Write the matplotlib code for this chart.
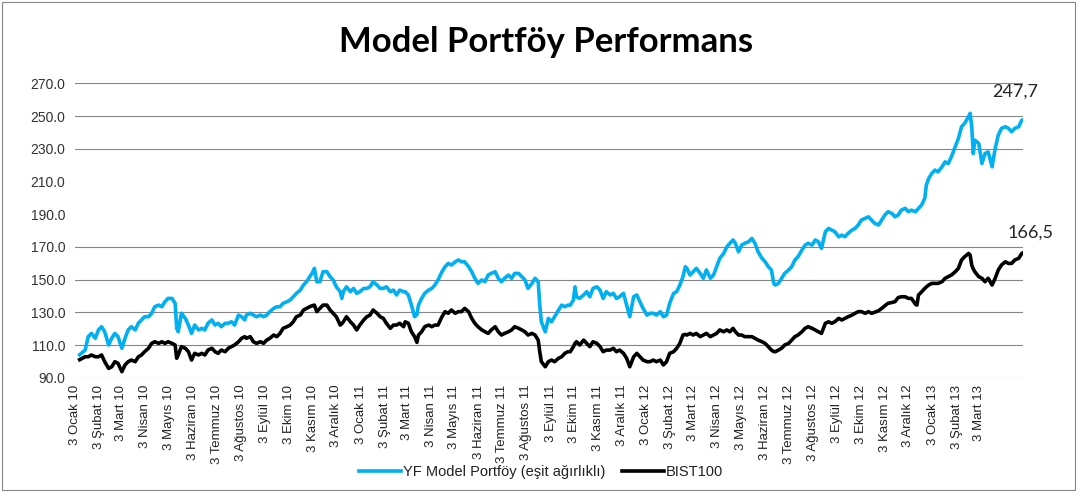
import matplotlib
matplotlib.use('Agg')
import matplotlib.pyplot as plt
import pandas as pd
from matplotlib.patches import Rectangle
from matplotlib.ticker import FormatStrFormatter

# gün: 3 Ocak 2010'dan itibaren geçen gün sayısı
day_offset = [
    6, 13, 17, 21, 26, 30, 34, 38, 43, 47, 51, 55, 60, 64, 68, 72, 77, 81, 85, 89,
    94, 98, 102, 107, 111, 115, 119, 124, 128, 130, 132, 136, 141, 145, 149, 153,
    158, 162, 166, 170, 175, 179, 183, 187, 192, 196, 200, 204, 209, 213, 217,
    219, 224, 228, 232, 237, 241, 245, 249, 254, 258, 262, 266, 271, 275, 279, 283,
    288, 292, 296, 300, 303, 306, 309, 313, 317, 322, 326, 330, 334, 339, 341, 343,
    347, 352, 356, 360, 364, 369, 373, 377, 381, 386, 390, 394, 398, 403, 407, 411,
    415, 420,
    422, 426, 430, 434, 437, 439, 443, 447, 452, 456, 460, 464, 469, 473, 477, 481,
    486, 490, 494, 498, 503, 507, 511, 515, 520, 524, 528, 532, 537, 541, 545, 549,
    554, 558, 562, 567, 571, 575, 579, 584, 588, 592, 594, 596, 601, 605, 609, 613,
    618, 622, 626, 630,
    633, 637, 639, 641, 645, 650, 654, 658, 662, 667, 671, 675, 679, 684, 688, 692,
    696, 701, 705, 709, 714, 718, 722, 726, 731, 735, 739, 743, 748, 752, 756, 760,
    765, 769, 773, 777, 780, 782, 786, 790, 794, 799, 803, 807, 812, 816, 820, 824,
    829, 833, 837, 841,
    844, 848, 852, 856, 861, 865, 869, 873, 878, 882, 886, 890, 893, 895, 899, 903,
    907, 912, 916, 920, 924, 929, 933, 937, 942, 946, 950, 954, 959, 963, 967, 971,
    976, 980, 984, 988, 993, 997, 1001, 1005, 1010, 1014, 1018,
    1022, 1027, 1031, 1035, 1039, 1044, 1048, 1052, 1056, 1061, 1065, 1069, 1074,
    1076, 1078, 1082, 1086, 1088, 1091, 1095, 1099, 1103, 1108, 1112, 1116, 1120,
    1125, 1129, 1133, 1137, 1142, 1144, 1146, 1148, 1150, 1155, 1159, 1163, 1167,
    1172, 1176, 1180, 1184, 1189, 1193, 1197, 1201, 1206, 1210, 1212,
]

yf_model = [
    104.0, 106.9, 115.1, 117.1, 114.1, 119.2, 121.2, 118.1, 110.0, 114.1, 117.1, 115.1,
    108.0, 114.1, 119.2, 121.2, 119.2, 123.3, 125.3, 127.3, 127.3, 129.4, 133.4, 134.4,
    133.4, 136.5, 138.5, 138.5, 135.5, 120.2, 118.1, 129.4, 126.3, 122.2, 117.1, 122.2,
    119.2, 120.2, 119.2, 123.3, 125.3, 122.2, 123.3, 121.2, 123.3, 123.3, 124.2, 122.2,
    128.3, 127.3, 125.3,
    128.3, 129.4, 128.3, 127.3, 128.3, 127.3, 128.3, 130.4, 132.4, 133.4,
    133.4, 135.5, 136.5, 137.5, 139.5, 141.6, 143.6, 146.7, 148.7, 151.8,
    153.8, 156.9, 148.7, 148.7, 154.8, 154.8, 151.8, 149.8, 145.6, 142.6,
    138.5, 142.6, 145.6, 142.6, 144.6, 141.6, 142.6, 144.6, 144.6, 145.6,
    148.7, 146.7, 144.6, 144.6, 145.6, 142.6, 143.6, 140.6, 143.6, 142.6,
    142.6, 140.6, 134.4, 127.3, 128.5, 134.4, 138.5, 141.6, 143.6, 144.6, 146.7, 149.8,
    154.8, 157.9, 159.9, 158.9, 160.9, 162.0, 160.9, 160.9, 157.9, 154.8, 150.8, 147.7,
    149.8, 148.7, 152.8, 153.8, 154.8, 150.8, 148.7, 150.8, 152.8, 150.8, 153.8, 153.8,
    151.8, 149.8, 144.6, 147.7, 150.8, 148.7, 134.4, 124.2, 118.1, 126.3, 124.2, 127.3,
    131.4, 134.4, 133.4, 134.4,
    134.4, 137.5, 145.6, 139.5, 138.5, 140.6, 142.6, 139.5, 144.6, 145.6, 143.6, 138.5,
    142.6, 140.6, 141.6, 138.5, 139.5, 141.6, 134.4, 127.3, 139.5, 140.6, 136.5, 132.4,
    128.3, 129.4, 129.4, 128.3, 130.4, 127.3, 128.3, 135.5, 141.6, 142.6, 146.7, 151.8,
    157.9, 156.9, 152.8, 154.8, 156.9, 153.8, 150.8, 155.9, 150.8, 152.8, 157.9, 163.0,
    166.0, 170.0, 172.2, 174.2,
    172.2, 167.0, 171.1, 172.2, 173.2, 175.2, 172.2, 167.0, 163.0, 160.9, 157.9, 155.9,
    147.7, 146.7, 147.7, 150.8, 153.8, 155.9, 157.9, 162.0, 164.0, 168.1, 171.1, 172.2,
    171.1, 174.2, 173.2, 169.1, 179.3, 181.3, 180.3, 179.3, 176.2, 177.2, 176.2, 178.3,
    180.3, 181.3, 183.4, 186.4, 187.5, 188.4, 186.4,
    184.4, 183.4, 186.4, 189.5, 191.5, 190.5, 188.4, 189.5, 192.5, 193.6, 191.5, 192.5,
    191.5, 192.5, 193.6, 195.6, 199.7, 207.8, 211.9, 214.9, 217.0, 215.9, 219.0, 222.0,
    221.0, 225.1, 231.3, 236.4, 243.5, 245.6, 249.7, 251.7, 243.5, 227.1, 235.3, 233.3,
    221.0, 227.1, 228.1, 219.0, 230.3, 238.4, 242.5, 243.5, 242.5, 240.4, 242.5, 243.5,
    247.5, 247.7,
]

bist100 = [
    101.0, 102.8, 102.8, 103.9, 102.8, 102.8, 103.9, 99.8, 95.7, 96.7, 99.8, 98.8,
    93.7, 97.8, 99.8, 100.8, 99.8, 102.8, 103.9, 105.9, 108.0, 111.0, 112.0, 111.0,
    112.0, 111.0, 112.0, 111.0, 110.0, 101.9, 103.9, 109.0, 108.0, 105.9, 100.8, 104.9,
    103.9, 104.9, 103.9, 106.9, 108.0, 105.9, 104.9, 106.9, 105.9, 108.0, 109.0, 110.0,
    112.0, 114.1, 115.1,
    114.1, 115.1, 112.0, 111.0, 112.0, 111.0, 113.0, 114.1, 116.1, 115.1,
    117.1, 120.2, 121.2, 122.2, 124.2, 127.3, 128.3, 131.4, 132.4, 133.4,
    134.0, 134.4, 130.4, 132.4, 134.4, 134.4, 131.4, 129.4, 127.3, 122.2,
    123.0, 124.2, 127.3, 124.2, 122.2, 119.2, 122.2, 125.3, 127.3, 128.3,
    131.4, 129.4, 127.3, 126.3, 123.3, 120.2, 122.2, 122.2, 123.3, 121.2,
    124.2, 123.3, 118.1, 115.1, 111.6, 116.1, 118.1, 121.2, 122.2, 121.2, 122.2, 122.2,
    127.3, 130.4, 129.4, 131.4, 129.4, 130.4, 130.4, 132.4, 130.4, 126.3, 123.3, 121.2,
    119.2, 118.1, 117.1, 119.2, 121.2, 118.1, 116.1, 117.1, 118.1, 119.2, 121.2, 120.2,
    119.2, 118.1, 116.1, 117.1, 116.1, 113.0, 105.9, 99.8, 96.7, 99.8, 100.8, 99.8,
    101.9, 102.8, 104.9, 105.9,
    105.9, 109.0, 111.0, 112.0, 110.0, 113.0, 111.0, 109.0, 112.0, 111.0, 109.0, 105.9,
    106.9, 106.9, 108.0, 105.9, 106.9, 104.9, 101.9, 96.7, 102.8, 104.9, 102.8, 100.8,
    99.8, 99.8, 100.8, 99.8, 100.8, 97.8, 99.8, 104.9, 105.9, 108.0, 111.0, 116.1,
    116.5, 116.1, 117.1, 116.1, 117.1, 115.1, 116.1, 117.1, 115.1, 116.1, 117.1, 119.2,
    118.1, 119.2, 118.1, 120.2,
    118.1, 116.1, 116.1, 115.1, 115.1, 115.1, 114.1, 113.0, 112.0, 111.0, 109.0, 106.9,
    106.0, 105.9, 106.9, 108.0, 110.0, 111.0, 113.0, 115.1, 116.1, 118.1, 120.2, 121.2,
    120.2, 119.2, 118.1, 117.1, 123.3, 124.2, 123.3, 124.2, 126.3, 125.3, 126.3, 127.3,
    128.3, 129.4, 130.4, 130.4, 129.4, 130.4, 129.4,
    130.0, 131.0, 132.4, 134.0, 135.5, 136.0, 136.5, 139.0, 139.5, 139.5, 138.5, 138.5,
    135.0, 134.4, 140.6, 142.5, 144.6, 145.5, 146.7, 147.7, 147.7, 147.7, 148.7, 150.8,
    151.8, 152.8, 154.8, 156.9, 162.0, 164.0, 166.0, 165.0, 158.9, 156.5, 154.8, 151.8,
    150.8, 148.7, 150.8, 146.7, 150.8, 155.9, 158.9, 160.9, 159.9, 159.9, 162.0, 163.0,
    166.0, 166.5,
]

months_tr = ['Ocak', 'Şubat', 'Mart', 'Nisan', 'Mayıs', 'Haziran',
             'Temmuz', 'Ağustos', 'Eylül', 'Ekim', 'Kasım', 'Aralık']
n_ticks = 39   # 3 Ocak 10 ... 3 Mart 13
# orijinal grafikte 190 ve 210 çizgileri görünmüyor
grid_levels = [90, 110, 130, 150, 170, 230, 250, 270]

start = pd.Timestamp('2010-01-03')
dates = start + pd.to_timedelta(day_offset, unit='D')

tick_dates = [pd.Timestamp(2010 + i // 12, i % 12 + 1, 3) for i in range(n_ticks)]
tick_labels = ['3 %s %02d' % (months_tr[d.month - 1], d.year % 100) for d in tick_dates]

fig = plt.figure(figsize=(10.77, 4.92), dpi=100)
ax = fig.add_axes([0.0696, 0.2323, 0.8806, 0.5982])

for g in grid_levels:
    ax.axhline(g, color='#868686', lw=0.8, zorder=0)

ax.plot(dates, yf_model, color='#00B0F0', lw=2.6, label='YF Model Portföy (eşit ağırlıklı)')
ax.plot(dates, bist100, color='black', lw=2.6, label='BIST100')

ax.set_xlim(start, dates[-1])
ax.set_ylim(90, 270)
ax.set_yticks(range(90, 271, 20))
ax.yaxis.set_major_formatter(FormatStrFormatter('%.1f'))
ax.set_xticks(tick_dates)
ax.set_xticklabels(tick_labels, rotation=90, fontsize=9.5, family='Liberation Sans', color='#222222')
for lab in ax.get_yticklabels():
    lab.set_family('Liberation Sans')
    lab.set_fontsize(10)
    lab.set_color('#333333')
ax.tick_params(axis='both', length=0)
ax.tick_params(axis='y', pad=7)
ax.tick_params(axis='x', pad=5)
for s in ax.spines.values():
    s.set_visible(False)

# son değer etiketleri
ax.annotate(('%.1f' % yf_model[-1]).replace('.', ','), xy=(dates[-1], yf_model[-1]),
            xytext=(-8, 28), textcoords='offset pixels', ha='center', va='center',
            fontsize=13, family='Lato', color='#262626')
ax.annotate(('%.1f' % bist100[-1]).replace('.', ','), xy=(dates[-1], bist100[-1]),
            xytext=(7, 20), textcoords='offset pixels', ha='center', va='center',
            fontsize=13, family='Lato', color='#262626')

fig.text(546 / 1077, 1 - 42 / 492, 'Model Portföy Performans', ha='center', va='center',
         fontsize=25, fontweight='bold', family='Lato')

leg = fig.legend(loc='center', bbox_to_anchor=(541 / 1077, 20 / 492), ncol=2, frameon=False,
                 prop={'family': 'Liberation Sans', 'size': 10.5}, handlelength=2.9,
                 handletextpad=0.15, columnspacing=1.1)
for t in leg.get_texts():
    t.set_color('#222222')

fig.patches.append(Rectangle((0.002, 0.004), 0.996, 0.992, transform=fig.transFigure,
                             fill=False, edgecolor='#868686', lw=0.8))

fig.savefig('out.png', dpi=100)
